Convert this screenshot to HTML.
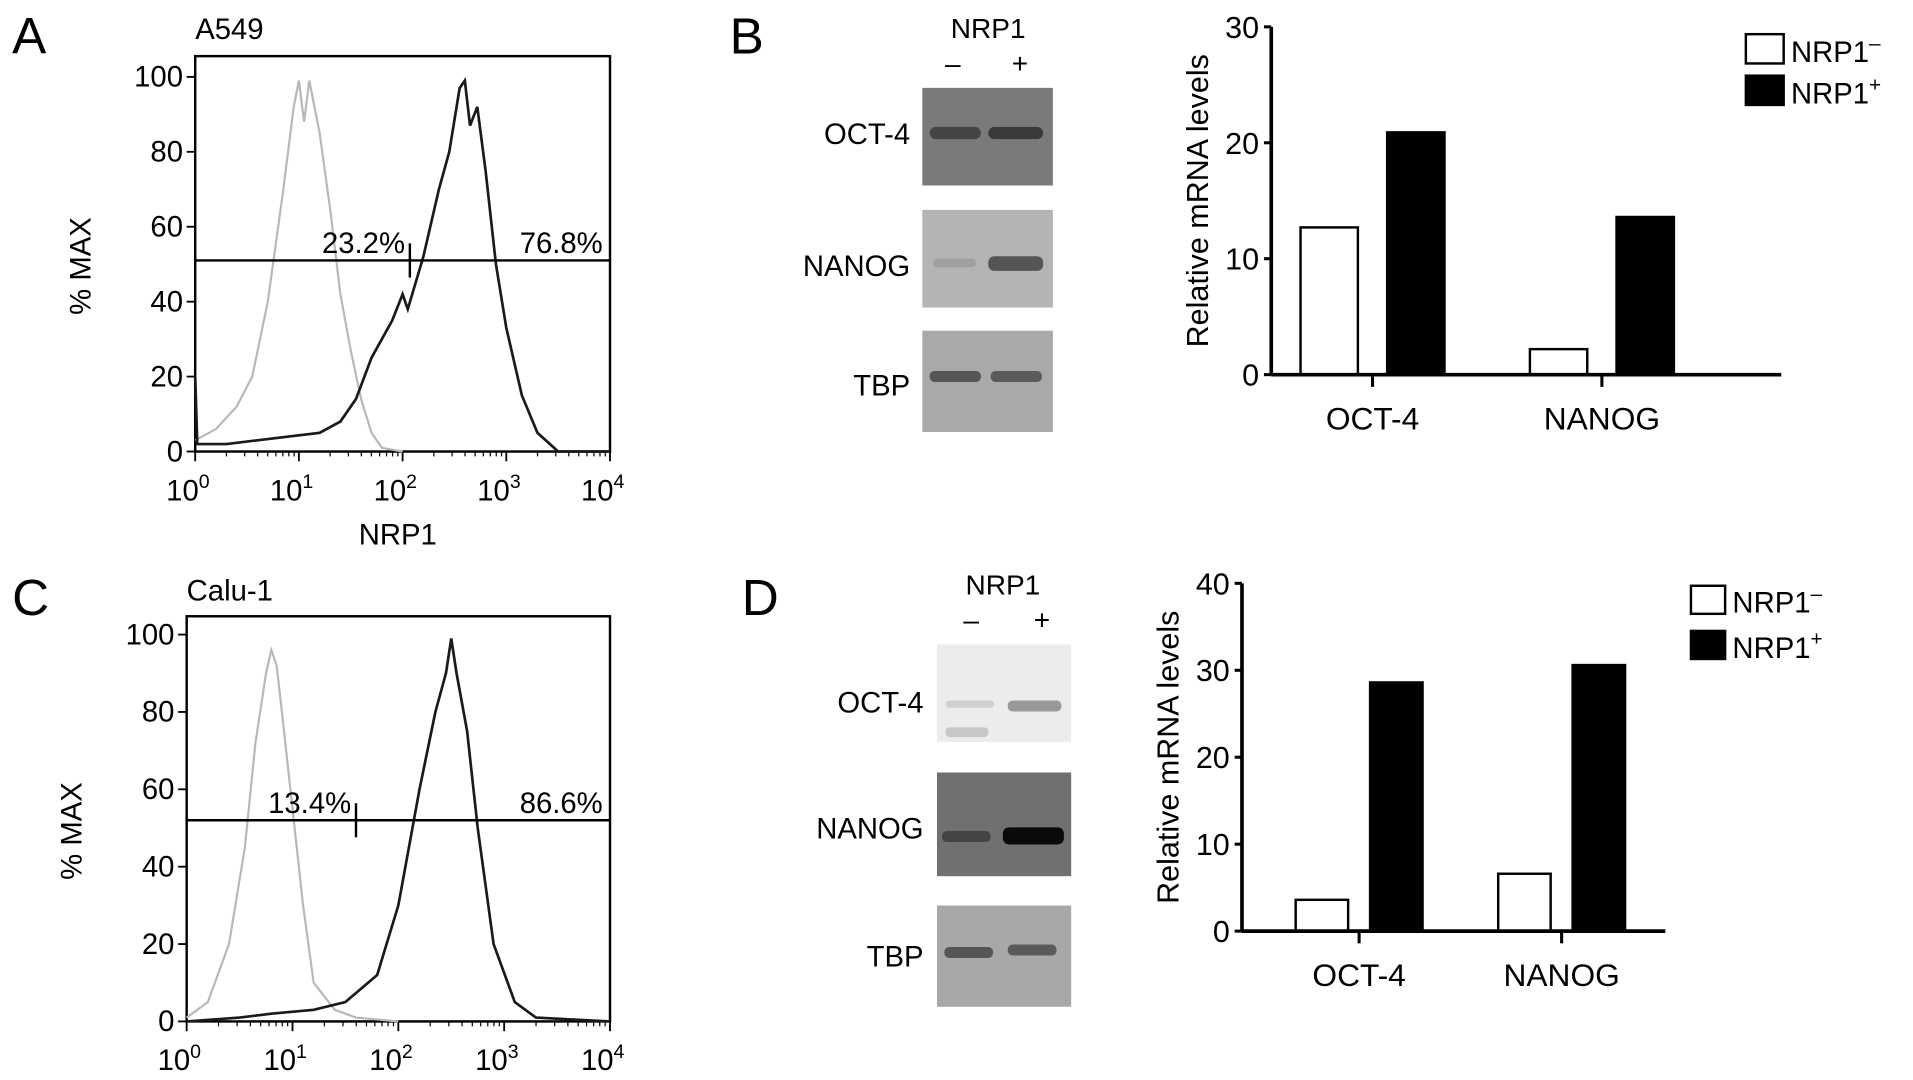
<!DOCTYPE html>
<html><head><meta charset="utf-8">
<style>
html,body{margin:0;padding:0;background:#fff;}
svg{display:block;font-family:"Liberation Sans",sans-serif;}
</style></head>
<body>
<svg id="fig" width="1913" height="1080" viewBox="0 0 1568 885" preserveAspectRatio="none" xmlns="http://www.w3.org/2000/svg">
<g id="static">
<text x="10" y="44" font-size="42">A</text>
<text x="598" y="44" font-size="42">B</text>
<text x="10" y="504" font-size="42">C</text>
<text x="608" y="504" font-size="42">D</text>
<text x="160" y="32" font-size="24">A549</text>
<text x="153" y="492" font-size="24">Calu-1</text>
<!-- blots B -->
<text x="810" y="31" font-size="23" text-anchor="middle">NRP1</text>
<text x="781" y="60" font-size="23" text-anchor="middle">–</text>
<text x="836" y="60" font-size="23" text-anchor="middle">+</text>
<rect x="756" y="72" width="107" height="80" fill="#7a7a7a"/>
<rect x="762" y="104" width="42" height="10" rx="5" fill="#444"/>
<rect x="810" y="104" width="45" height="10" rx="5" fill="#3a3a3a"/>
<rect x="756" y="172" width="107" height="80" fill="#b4b4b4"/>
<rect x="765" y="212" width="35" height="7" rx="3" fill="#a0a0a0"/>
<rect x="810" y="210" width="45" height="12" rx="5" fill="#555"/>
<rect x="756" y="271" width="107" height="83" fill="#a9a9a9"/>
<rect x="762" y="304" width="42" height="9" rx="4" fill="#555"/>
<rect x="812" y="304" width="42" height="9" rx="4" fill="#5a5a5a"/>
<text x="746" y="118" font-size="24" text-anchor="end">OCT-4</text>
<text x="746" y="226" font-size="24" text-anchor="end">NANOG</text>
<text x="746" y="324" font-size="24" text-anchor="end">TBP</text>
<!-- blots D -->
<text x="822" y="487" font-size="23" text-anchor="middle">NRP1</text>
<text x="796" y="516" font-size="23" text-anchor="middle">–</text>
<text x="854" y="516" font-size="23" text-anchor="middle">+</text>
<rect x="768" y="528" width="110" height="80" fill="#ececec"/>
<rect x="775" y="574" width="40" height="6" rx="3" fill="#d0d0d0"/>
<rect x="775" y="596" width="35" height="8" rx="3" fill="#c8c8c8"/>
<rect x="826" y="574" width="44" height="9" rx="4" fill="#999"/>
<rect x="768" y="633" width="110" height="85" fill="#707070"/>
<rect x="772" y="681" width="40" height="9" rx="4" fill="#444"/>
<rect x="822" y="678" width="50" height="14" rx="5" fill="#0a0a0a"/>
<rect x="768" y="742" width="110" height="83" fill="#a8a8a8"/>
<rect x="774" y="776" width="40" height="9" rx="4" fill="#555"/>
<rect x="826" y="774" width="40" height="9" rx="4" fill="#5a5a5a"/>
<text x="757" y="584" font-size="24" text-anchor="end">OCT-4</text>
<text x="757" y="687" font-size="24" text-anchor="end">NANOG</text>
<text x="757" y="792" font-size="24" text-anchor="end">TBP</text>
</g>
</svg>
<script>
// Histogram A (log10 NRP1, %MAX)
const histA_grayX=[0,0.2,0.4,0.55,0.7,0.85,0.95,1.0,1.05,1.1,1.2,1.3,1.4,1.5,1.6,1.7,1.8,2.0];
const histA_grayY=[3,6,12,20,40,70,92,99,88,99,85,65,42,27,14,5,1,0];
const histA_blackX=[0,0.02,0.3,0.6,0.9,1.2,1.4,1.55,1.7,1.9,2.0,2.05,2.2,2.35,2.45,2.55,2.6,2.65,2.72,2.8,2.9,3.0,3.15,3.3,3.5,4];
const histA_blackY=[20,2,2,3,4,5,8,14,25,35,42,38,52,70,80,97,99,87,92,75,50,33,15,5,0,0];
const gateA=[0,2.07,4,51];
const labelsA=["23.2%","76.8%"];
// Histogram C
const histC_grayX=[0,0.2,0.4,0.55,0.65,0.75,0.8,0.85,0.9,1.0,1.1,1.2,1.4,1.6,2.0];
const histC_grayY=[1,5,20,45,72,90,96,92,80,55,30,10,3,1,0];
const histC_blackX=[0,0.5,0.8,1.2,1.5,1.8,2.0,2.2,2.35,2.45,2.5,2.55,2.65,2.75,2.9,3.1,3.3,4];
const histC_blackY=[0,1,2,3,5,12,30,60,80,90,99,90,75,50,20,5,1,0];
const gateC=[0,1.6,4,52];
const labelsC=["13.4%","86.6%"];
const yTicksHist=[0,20,40,60,80,100];
const xTicksHist=[0,1,2,3,4];
// Bar charts
const barCats=["OCT-4","NANOG"];
const barsB_neg=[12.7,2.2];
const barsB_pos=[20.9,13.6];
const barsD_neg=[3.6,6.6];
const barsD_pos=[28.6,30.6];
const ticksB=[0,10,20,30];
const ticksD=[0,10,20,30,40];

const NS="http://www.w3.org/2000/svg";
const svg=document.getElementById('fig');
function mk(tag,attrs,parent){const e=document.createElementNS(NS,tag);for(const k in attrs)e.setAttribute(k,attrs[k]);(parent||svg).appendChild(e);return e;}

function hist(cfg){
  const {x0,x1,top,y0,y100,gx,gy,bx,by,gate,labels,name}=cfg;
  const sx=v=>x0+(x1-x0)*v/4, sy=v=>y0-(y0-y100)*v/100;
  const f=mk('rect',{x:x0,y:top,width:x1-x0,height:y0-top,fill:'none',stroke:'#000','stroke-width':2});
  
  
  yTicksHist.forEach(t=>{
    const l=mk('line',{x1:x0-7,x2:x0,y1:sy(t),y2:sy(t),stroke:'#000','stroke-width':1.5});
    
    
    const tx=mk('text',{x:x0-10,y:sy(t)+8,'font-size':24,'text-anchor':'end'});tx.textContent=t;
    
    
  });
  xTicksHist.forEach(t=>{
    const l=mk('line',{x1:sx(t),x2:sx(t),y1:y0,y2:y0+8,stroke:'#000','stroke-width':1.5});
    
    
    const tx=mk('text',{x:sx(t)-6,y:y0+40,'font-size':24,'text-anchor':'middle'});
    tx.textContent='10';
    
    
    const sp=mk('tspan',{dy:-10,'font-size':16});sp.textContent=t;tx.appendChild(sp);
    if(t<4){for(let m=2;m<10;m++){const xx=sx(t+Math.log10(m));
      const ml=mk('line',{x1:xx,x2:xx,y1:y0,y2:y0+4,stroke:'#000','stroke-width':1});
      
      }}
  });
  const pts=(X,Y)=>X.map((v,i)=>sx(v)+','+sy(Y[i])).join(' ');
  const g=mk('polyline',{points:pts(gx,gy),fill:'none',stroke:'#b8b8b8','stroke-width':1.8});
  
  
  const b=mk('polyline',{points:pts(bx,by),fill:'none',stroke:'#1a1a1a','stroke-width':2.2});
  
  
  const gl=mk('line',{x1:sx(gate[0]),x2:sx(gate[2]),y1:sy(gate[3]),y2:sy(gate[3]),stroke:'#000','stroke-width':2});
  
  
  const gt=mk('line',{x1:sx(gate[1]),x2:sx(gate[1]),y1:sy(gate[3])-14,y2:sy(gate[3])+14,stroke:'#000','stroke-width':2});
  
  
  const l1=mk('text',{x:sx(gate[1])-4,y:sy(gate[3])-6,'font-size':24,'text-anchor':'end'});l1.textContent=labels[0];
  
  
  const l2=mk('text',{x:x1-6,y:sy(gate[3])-6,'font-size':24,'text-anchor':'end'});l2.textContent=labels[1];
  
  
  const yt=mk('text',{transform:`translate(${x0-86},${(y0+top)/2+10}) rotate(-90)`,'font-size':24,'text-anchor':'middle'});yt.textContent='% MAX';
  
  
}
hist({x0:160,x1:500,top:46,y0:370,y100:63,gx:histA_grayX,gy:histA_grayY,bx:histA_blackX,by:histA_blackY,gate:gateA,labels:labelsA,name:'a549'});
hist({x0:153,x1:500,top:505,y0:837,y100:520,gx:histC_grayX,gy:histC_grayY,bx:histC_blackX,by:histC_blackY,gate:gateC,labels:labelsC,name:'calu1'});
const xa=mk('text',{x:326,y:446,'font-size':24,'text-anchor':'middle'});xa.textContent='NRP1';



function bars(cfg){
  const {ax,axEnd,y0,ppu,ticks,neg,pos,catX,bw,off,name,leg}=cfg;
  const sy=v=>y0-v*ppu;
  const yl=mk('line',{x1:ax,x2:ax,y1:sy(ticks[ticks.length-1]),y2:y0,stroke:'#000','stroke-width':3});
  
  
  ticks.forEach(t=>{
    const l=mk('line',{x1:ax-6,x2:ax,y1:sy(t),y2:sy(t),stroke:'#000','stroke-width':2.5});
    
    
    const tx=mk('text',{x:ax-10,y:sy(t)+9,'font-size':25,'text-anchor':'end'});tx.textContent=t;
    
    
  });
  barCats.forEach((c,i)=>{
    const cx=catX[i];
    const r1=mk('rect',{x:cx-off-bw,y:sy(neg[i]),width:bw,height:neg[i]*ppu,fill:'#fff',stroke:'#000','stroke-width':2});
    
    
    const r2=mk('rect',{x:cx+off,y:sy(pos[i]),width:bw,height:pos[i]*ppu,fill:'#000',stroke:'#000','stroke-width':2});
    
    
    const tk=mk('line',{x1:cx,x2:cx,y1:y0,y2:y0+10,stroke:'#000','stroke-width':2.5});
    
    
    const tl=mk('text',{x:cx,y:y0+45,'font-size':26,'text-anchor':'middle'});tl.textContent=c;
    
    
  });
  const xl=mk('line',{x1:ax,x2:axEnd,y1:y0,y2:y0,stroke:'#000','stroke-width':3});
  
  
  const yt=mk('text',{transform:`translate(${ax-52},${(sy(ticks[ticks.length-1])+y0)/2}) rotate(-90)`,'font-size':25,'text-anchor':'middle'});yt.textContent='Relative mRNA levels';
  
  
  const [lx,ly,lw,lh,gap]=leg;
  ['–','+'].forEach((s,i)=>{
    const r=mk('rect',{x:lx,y:ly+i*gap,width:lw,height:lh,fill:i?'#000':'#fff',stroke:'#000','stroke-width':2});
    
    
    const t=mk('text',{x:lx+lw+6,y:ly+lh-1+i*gap,'font-size':24});t.textContent='NRP1';
    
    
    const sp=mk('tspan',{dy:-10,'font-size':17});sp.textContent=s;t.appendChild(sp);
  });
}
bars({ax:1042,axEnd:1460,y0:307,ppu:9.5,ticks:ticksB,neg:barsB_neg,pos:barsB_pos,catX:[1125,1313],bw:47,off:12,name:'b',leg:[1431,28,31,24,34]});
bars({ax:1018,axEnd:1365,y0:763,ppu:7.125,ticks:ticksD,neg:barsD_neg,pos:barsD_pos,catX:[1114,1280],bw:43,off:9,name:'d',leg:[1386,480,28,23,37]});
</script>
</body></html>
